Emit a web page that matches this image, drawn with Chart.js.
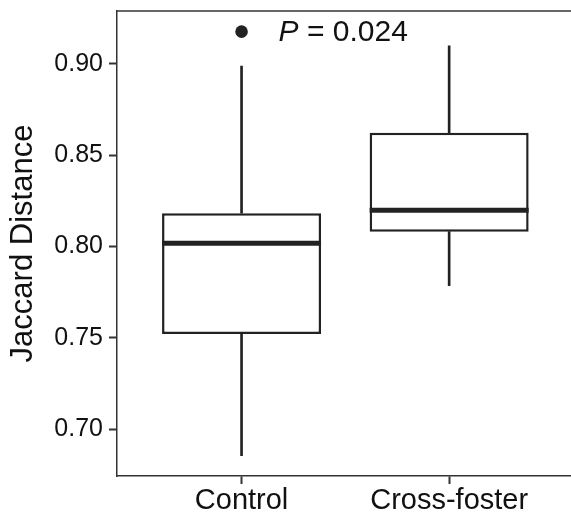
<!DOCTYPE html>
<html>
<head>
<meta charset="utf-8">
<script src="https://cdn.jsdelivr.net/npm/chart.js@4/dist/chart.umd.min.js"></script>
<style>
    html, body { margin: 0; padding: 0; background: #fff; overflow: hidden; }
    #wrap { width: 571px; height: 516px; overflow: hidden; }
</style>
</head>
<body>
<div id="wrap"><canvas id="boxChart" width="580" height="516"></canvas></div>
<script>
// Box plot values
const categories = ['Control', 'Cross-foster'];
const lowerWhisker = [0.6855, 0.7786];
const q1 = [0.7522, 0.8082];
const medians = [0.8018, 0.8199];
const q3 = [0.8183, 0.8624];
const upperWhisker = [0.8989, 0.9099];
const outlierGroups = [0];
const outlierValues = [0.9177];
const yTicks = [0.70, 0.75, 0.80, 0.85, 0.90];
const yMin = 0.6744;
const yMax = 0.929;
const pValueText = '0.024';

const FONT = "'Liberation Sans', Arial, Helvetica, sans-serif";
const INK = '#222222';
const AXIS = '#333333';

// top border of the panel (left/bottom come from the axes)
const panelBorder = {
    id: 'panelBorder',
    afterDraw(chart) {
        const { ctx, chartArea } = chart;
        ctx.save();
        ctx.strokeStyle = AXIS;
        ctx.lineWidth = 1.5;
        ctx.beginPath();
        ctx.moveTo(chartArea.left, chartArea.top);
        ctx.lineTo(chartArea.right, chartArea.top);
        ctx.stroke();
        ctx.restore();
    }
};

// thick median line across each box
const medianLines = {
    id: 'medianLines',
    afterDatasetsDraw(chart) {
        const { ctx } = chart;
        const yScale = chart.scales.y;
        const boxes = chart.getDatasetMeta(0).data;
        ctx.save();
        ctx.strokeStyle = INK;
        ctx.lineWidth = 5;
        boxes.forEach((bar, i) => {
            const y = yScale.getPixelForValue(medians[i]);
            ctx.beginPath();
            ctx.moveTo(bar.x - bar.width / 2, y);
            ctx.lineTo(bar.x + bar.width / 2, y);
            ctx.stroke();
        });
        ctx.restore();
    }
};

// "P = 0.024" next to the outlier
const pLabel = {
    id: 'pLabel',
    afterDraw(chart) {
        const { ctx } = chart;
        const x = chart.scales.x.getPixelForValue(outlierGroups[0] + 1) + 37;
        const y = chart.scales.y.getPixelForValue(outlierValues[0]) + 9;
        ctx.save();
        ctx.fillStyle = '#111';
        ctx.textBaseline = 'alphabetic';
        ctx.font = `italic 30px ${FONT}`;
        ctx.fillText('P', x, y);
        const w = ctx.measureText('P').width;
        ctx.font = `30px ${FONT}`;
        ctx.fillText(' = ' + pValueText, x + w, y);
        ctx.restore();
    }
};

const ctx = document.getElementById('boxChart').getContext('2d');
new Chart(ctx, {
    type: 'bar',
    data: {
        datasets: [
            {
                label: 'box',
                data: categories.map((c, i) => ({ x: i + 1, y: [q1[i], q3[i]] })),
                backgroundColor: '#ffffff',
                borderColor: INK,
                borderWidth: 2.5,
                borderSkipped: false,
                barPercentage: 0.766,
                categoryPercentage: 1,
                grouped: false,
                order: 1
            },
            {
                label: 'upper',
                data: categories.map((c, i) => ({ x: i + 1, y: [q3[i], upperWhisker[i]] })),
                backgroundColor: INK,
                borderWidth: 0,
                barThickness: 2,
                grouped: false,
                order: 2
            },
            {
                label: 'lower',
                data: categories.map((c, i) => ({ x: i + 1, y: [lowerWhisker[i], q1[i]] })),
                backgroundColor: INK,
                borderWidth: 0,
                barThickness: 2,
                grouped: false,
                order: 2
            },
            {
                type: 'scatter',
                label: 'outliers',
                data: outlierValues.map((v, i) => ({ x: outlierGroups[i] + 1, y: v })),
                backgroundColor: INK,
                borderWidth: 0,
                pointRadius: 6.3,
                order: 0
            }
        ]
    },
    options: {
        responsive: false,
        animation: false,
        layout: { padding: { top: 11, right: 4, left: 0, bottom: 0 } },
        plugins: {
            legend: { display: false },
            tooltip: { enabled: false }
        },
        scales: {
            x: {
                type: 'linear',
                min: 0.4,
                max: 2.6,
                offset: false,
                afterBuildTicks: (axis) => {
                    axis.ticks = categories.map((c, i) => ({ value: i + 1 }));
                },
                afterFit: (scale) => {
                    scale.height = 40;
                    scale.paddingLeft = 0;
                    scale.paddingRight = 0;
                },
                ticks: {
                    callback: (v) => categories[v - 1],
                    font: { family: FONT, size: 29 },
                    color: '#111',
                    padding: 0,
                    autoSkip: false,
                    maxRotation: 0
                },
                grid: {
                    offset: false,
                    drawOnChartArea: false,
                    tickLength: 8,
                    tickWidth: 2,
                    tickColor: AXIS
                },
                border: { display: true, color: AXIS, width: 1.5 }
            },
            y: {
                type: 'linear',
                min: yMin,
                max: yMax,
                afterBuildTicks: (axis) => {
                    axis.ticks = yTicks.map(v => ({ value: v }));
                },
                afterFit: (scale) => {
                    scale.width = 117;
                    scale.paddingTop = 0;
                    scale.paddingBottom = 0;
                },
                ticks: {
                    callback: (v) => v.toFixed(2),
                    font: { family: FONT, size: 25 },
                    color: '#111',
                    padding: 6
                },
                grid: {
                    drawOnChartArea: false,
                    tickLength: 8,
                    tickWidth: 2,
                    tickColor: AXIS
                },
                border: { display: true, color: AXIS, width: 1.5 },
                title: {
                    display: true,
                    text: 'Jaccard Distance',
                    font: { family: FONT, size: 31 },
                    color: '#111',
                    padding: { top: 5, bottom: 0 }
                }
            }
        }
    },
    plugins: [panelBorder, medianLines, pLabel]
});
</script>
</body>
</html>
